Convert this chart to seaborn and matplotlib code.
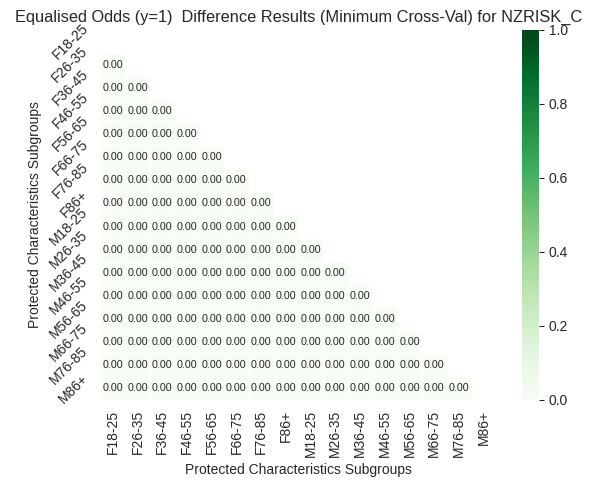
import numpy as np
import pandas as pd
import matplotlib
matplotlib.use("Agg")
import matplotlib.pyplot as plt
import seaborn as sns

groups = ['F18-25', 'F26-35', 'F36-45', 'F46-55', 'F56-65', 'F66-75', 'F76-85', 'F86+',
          'M18-25', 'M26-35', 'M36-45', 'M46-55', 'M56-65', 'M66-75', 'M76-85', 'M86+']

# lower triangle values (row i has i entries)
lower_values = [
    [],
    [0.00],
    [0.00, 0.00],
    [0.00, 0.00, 0.00],
    [0.00, 0.00, 0.00, 0.00],
    [0.00, 0.00, 0.00, 0.00, 0.00],
    [0.00, 0.00, 0.00, 0.00, 0.00, 0.00],
    [0.00, 0.00, 0.00, 0.00, 0.00, 0.00, 0.00],
    [0.00, 0.00, 0.00, 0.00, 0.00, 0.00, 0.00, 0.00],
    [0.00, 0.00, 0.00, 0.00, 0.00, 0.00, 0.00, 0.00, 0.00],
    [0.00, 0.00, 0.00, 0.00, 0.00, 0.00, 0.00, 0.00, 0.00, 0.00],
    [0.00, 0.00, 0.00, 0.00, 0.00, 0.00, 0.00, 0.00, 0.00, 0.00, 0.00],
    [0.00, 0.00, 0.00, 0.00, 0.00, 0.00, 0.00, 0.00, 0.00, 0.00, 0.00, 0.00],
    [0.00, 0.00, 0.00, 0.00, 0.00, 0.00, 0.00, 0.00, 0.00, 0.00, 0.00, 0.00, 0.00],
    [0.00, 0.00, 0.00, 0.00, 0.00, 0.00, 0.00, 0.00, 0.00, 0.00, 0.00, 0.00, 0.00, 0.00],
    [0.00, 0.00, 0.00, 0.00, 0.00, 0.00, 0.00, 0.00, 0.00, 0.00, 0.00, 0.00, 0.00, 0.00, 0.00],
]

n = len(groups)
mat = np.full((n, n), np.nan)
for i, row in enumerate(lower_values):
    mat[i, :len(row)] = row
df = pd.DataFrame(mat, index=groups, columns=groups)
mask = np.triu(np.ones((n, n), dtype=bool))

sns.set_style("white")
plt.rcParams['font.family'] = ['Liberation Sans', 'DejaVu Sans']

fig = plt.figure(figsize=(5.97, 4.84), dpi=100)
ax = fig.add_axes([0.1683, 0.1736, 0.6625, 0.7645])
cax = fig.add_axes([0.8744, 0.1736, 0.0285, 0.7645])

sns.heatmap(df, mask=mask, cmap="Greens", vmin=0, vmax=1, annot=True, fmt=".2f",
            annot_kws={"size": 7.7}, linewidths=0.5, linecolor="white",
            ax=ax, cbar_ax=cax)
ax.set_title("Equalised Odds (y=1)  Difference Results (Minimum Cross-Val) for NZRISK_C",
             fontsize=11.8)
ax.set_xlabel("Protected Characteristics Subgroups")
ax.set_ylabel("Protected Characteristics Subgroups")
plt.setp(ax.get_yticklabels(), rotation=45)
plt.setp(ax.get_xticklabels(), rotation=90)

fig.savefig("out.png", dpi=100)
